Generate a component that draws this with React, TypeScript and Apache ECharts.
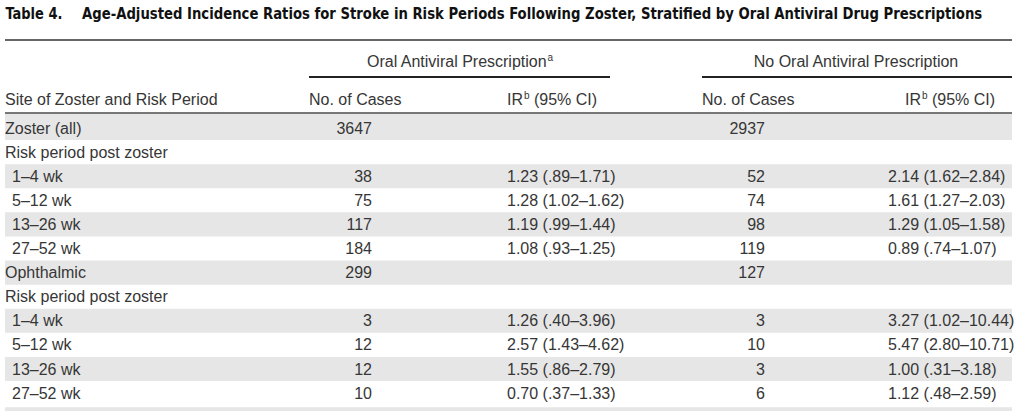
import React, { useEffect, useRef } from "react";
import * as echarts from "echarts";

const titleNumber = "Table 4.";
const titleText =
  "Age-Adjusted Incidence Ratios for Stroke in Risk Periods Following Zoster, Stratified by Oral Antiviral Drug Prescriptions";
const groupHeaders = ["Oral Antiviral Prescription", "No Oral Antiviral Prescription"];
const groupFootnotes = ["a", ""];
const siteHeader = "Site of Zoster and Risk Period";
const casesHeader = "No. of Cases";
const irHeader = "IR";
const irFootnote = "b";
const ciHeader = " (95% CI)";

const rowLabels = [
  "Zoster (all)",
  "Risk period post zoster",
  "1–4 wk",
  "5–12 wk",
  "13–26 wk",
  "27–52 wk",
  "Ophthalmic",
  "Risk period post zoster",
  "1–4 wk",
  "5–12 wk",
  "13–26 wk",
  "27–52 wk",
];
const rowIndent = [0, 0, 1, 1, 1, 1, 0, 0, 1, 1, 1, 1];
const rowShaded = [1, 0, 1, 0, 1, 0, 1, 0, 1, 0, 1, 0];
const casesOral = ["3647", "", "38", "75", "117", "184", "299", "", "3", "12", "12", "10"];
const irOral = [
  "",
  "",
  "1.23 (.89–1.71)",
  "1.28 (1.02–1.62)",
  "1.19 (.99–1.44)",
  "1.08 (.93–1.25)",
  "",
  "",
  "1.26 (.40–3.96)",
  "2.57 (1.43–4.62)",
  "1.55 (.86–2.79)",
  "0.70 (.37–1.33)",
];
const casesNone = ["2937", "", "52", "74", "98", "119", "127", "", "3", "10", "3", "6"];
const irNone = [
  "",
  "",
  "2.14 (1.62–2.84)",
  "1.61 (1.27–2.03)",
  "1.29 (1.05–1.58)",
  "0.89 (.74–1.07)",
  "",
  "",
  "3.27 (1.02–10.44)",
  "5.47 (2.80–10.71)",
  "1.00 (.31–3.18)",
  "1.12 (.48–2.59)",
];

const FONT = "'Liberation Sans', Arial, Helvetica, sans-serif";
const TITLE_FONT = "'Liberation Sans Narrow', 'DejaVu Sans Condensed', 'Liberation Sans', sans-serif";
const TEXT = "#363636";
const SHADE = "#e6e6e6";

function measure(text: string, font: string): number {
  const c = document.createElement("canvas");
  const ctx = c.getContext("2d");
  if (!ctx) return 0;
  ctx.font = font;
  return ctx.measureText(text).width;
}

export default function App() {
  const ref = useRef<HTMLDivElement>(null);
  useEffect(() => {
    document.body.style.margin = "0";
    if (!ref.current) return;
    const chart = echarts.init(ref.current, undefined, { renderer: "svg" });

    const L = 5;
    const R = 1012;
    const ROW0 = 128;
    const PITCH = 24.1;
    const colCasesOral = 372;
    const colIrOral = 507;
    const colCasesNone = 765;
    const colIrNone = 888;

    const txt = (text: string, x: number, y: number, align = "left", extra: any = {}) => ({
      type: "text",
      x,
      y,
      silent: true,
      style: {
        text,
        fill: TEXT,
        fontSize: 16,
        fontFamily: FONT,
        align,
        verticalAlign: "middle",
        ...extra,
      },
    });

    const elements: any[] = [];

    // shading
    rowLabels.forEach((_, i) => {
      if (rowShaded[i]) {
        const cy = ROW0 + PITCH * i;
        elements.push({
          type: "rect",
          silent: true,
          shape: {
            x: L,
            y: i === 0 ? 114 : cy - PITCH / 2,
            width: R - L,
            height: i === 0 ? cy + PITCH / 2 - 114 : PITCH,
          },
          style: { fill: SHADE },
        });
      }
    });
    const nextY = ROW0 + PITCH * (rowLabels.length - 0.5);
    elements.push({
      type: "rect",
      silent: true,
      shape: { x: L, y: nextY + 2, width: R - L, height: 20 },
      style: { fill: SHADE },
    });

    // title, squeezed to the reference width
    const titleFontStr = `bold 16px ${TITLE_FONT}`;
    const wNum = measure(titleNumber, titleFontStr) || 60;
    const wTitle = measure(titleText, titleFontStr) || 900;
    const sxNum = Math.min(1.2, 57 / wNum);
    const sxTitle = 901 / wTitle;
    elements.push({
      ...txt(titleNumber, L, 14, "left", { fill: "#111", fontWeight: "bold", fontFamily: TITLE_FONT, fontSize: 16 }),
      scaleX: sxNum,
      originX: L,
    });
    elements.push({
      ...txt(titleText, 82, 14, "left", { fill: "#111", fontWeight: "bold", fontFamily: TITLE_FONT, fontSize: 16 }),
      scaleX: sxTitle,
    });

    // rules
    const line = (x1: number, y1: number, x2: number, y2: number, stroke: string, lw: number) => ({
      type: "line",
      silent: true,
      shape: { x1, y1, x2, y2 },
      style: { stroke, lineWidth: lw },
    });
    elements.push(line(L, 40, R, 40, "#333", 1.5));
    elements.push(line(309, 77, 610, 77, "#222", 1.8));
    elements.push(line(702, 77, R, 77, "#222", 1.8));
    elements.push(line(L, 113, R, 113, "#777", 2));

    const supText = (main: string, sup: string, x: number, y: number, align: string) => ({
      type: "text",
      x,
      y,
      silent: true,
      style: {
        text: sup ? `{m|${main}}{s|${sup}}` : `{m|${main}}`,
        align,
        verticalAlign: "middle",
        rich: {
          m: { fontSize: 16, fontFamily: FONT, fill: TEXT, lineHeight: 18 },
          s: { fontSize: 10, fontFamily: FONT, fill: TEXT, verticalAlign: "top", lineHeight: 18, padding: [0, 0, 8, 0] },
        },
      },
    });

    // group headers
    elements.push(supText(groupHeaders[0], groupFootnotes[0], 367, 61, "left"));
    elements.push(supText(groupHeaders[1], groupFootnotes[1], 856, 61, "center"));

    // column headers
    const headerY = 99;
    elements.push(txt(siteHeader, L, headerY));
    elements.push(txt(casesHeader, 309, headerY));
    elements.push(txt(casesHeader, 702, headerY));
    const irHead = (x: number) => ({
      type: "text",
      x,
      y: headerY,
      silent: true,
      style: {
        text: `{m|${irHeader}}{s|${irFootnote}}{m|${ciHeader}}`,
        align: "left",
        verticalAlign: "middle",
        rich: {
          m: { fontSize: 16, fontFamily: FONT, fill: TEXT, lineHeight: 18 },
          s: { fontSize: 10, fontFamily: FONT, fill: TEXT, verticalAlign: "top", lineHeight: 18, padding: [0, 0, 8, 1] },
        },
      },
    });
    elements.push(irHead(507));
    elements.push(irHead(905));

    // body rows
    rowLabels.forEach((label, i) => {
      const y = ROW0 + PITCH * i;
      elements.push(txt(label, rowIndent[i] ? 12 : L, y));
      if (casesOral[i]) elements.push(txt(casesOral[i], colCasesOral, y, "right"));
      if (irOral[i]) elements.push(txt(irOral[i], colIrOral, y));
      if (casesNone[i]) elements.push(txt(casesNone[i], colCasesNone, y, "right"));
      if (irNone[i]) elements.push(txt(irNone[i], colIrNone, y));
    });

    chart.setOption({
      animation: false,
      backgroundColor: "#ffffff",
      graphic: { elements },
    });
    return () => chart.dispose();
  }, []);

  return <div ref={ref} style={{ position: "absolute", left: 0, top: 0, width: 1023, height: 411 }} />;
}
